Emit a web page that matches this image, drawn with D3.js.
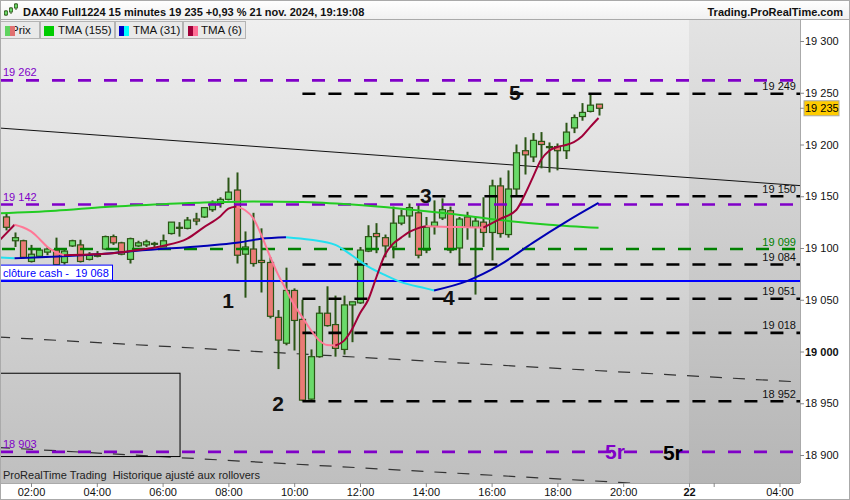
<!DOCTYPE html>
<html><head><meta charset="utf-8">
<script src="https://cdn.jsdelivr.net/npm/d3@7"></script>
<style>
body{margin:0;background:#fff}
svg{display:block;font-family:"Liberation Sans",Arial,sans-serif}
</style>
</head><body><svg id="c" width="850" height="500"></svg>
<script>
// ---------------- DATA ----------------
const times = ["01:15","01:30","01:45","02:00","02:15","02:30","02:45","03:00","03:15","03:30","03:45","04:00",
"04:15","04:30","04:45","05:00","05:15","05:30","05:45","06:00","06:15","06:30","06:45","07:00",
"07:15","07:30","07:45","08:00","08:15","08:30","08:45","09:00","09:15","09:30","09:45","10:00",
"10:15","10:30","10:45","11:00","11:15","11:30","11:45","12:00","12:15","12:30","12:45","13:00",
"13:15","13:30","13:45","14:00","14:15","14:30","14:45","15:00","15:15","15:30","15:45","16:00",
"16:15","16:30","16:45","17:00","17:15","17:30","17:45","18:00","18:15","18:30","18:45","19:00","19:15"];
const open  = [19130,19107,19107,19087,19092,19096,19098,19086,19102,19103,19089,19092,
19099,19111,19105,19089,19102,19103,19104,19101,19114,19120,19119,19128,
19130,19137,19143,19147,19156,19094,19099,19088,19086,19033,19008,19059,
19031,18954,18995,19037,19026,19002,19045,19047,19097,19114,19110,19101,
19124,19131,19134,19098,19121,19129,19136,19100,19130,19120,19125,19115,
19160,19113,19157,19194,19188,19203,19198,19198,19194,19216,19227,19232,19239];
const high  = [19134,19115,19108,19103,19100,19101,19110,19100,19108,19108,19096,19097,
19112,19113,19106,19110,19107,19108,19106,19113,19125,19125,19130,19134,
19139,19146,19149,19168,19173,19116,19134,19119,19091,19040,19081,19061,
19050,19002,19044,19063,19054,19054,19048,19101,19122,19124,19113,19140,
19137,19143,19142,19130,19146,19148,19140,19130,19135,19130,19149,19166,
19168,19175,19200,19207,19211,19212,19202,19201,19221,19229,19240,19248,19239];
const low   = [19117,19101,19090,19086,19091,19093,19083,19084,19101,19086,19088,19091,
19098,19103,19093,19085,19101,19101,19101,19101,19113,19111,19118,19122,
19129,19135,19139,19146,19085,19052,19082,19057,19032,18983,19006,19001,
18952,18952,18994,19024,18995,18997,19009,19046,19096,19095,19091,19090,
19122,19110,19090,19095,19113,19127,19095,19085,19108,19055,19101,19088,
19110,19110,19151,19171,19183,19177,19173,19175,19186,19211,19223,19231,19228];
const close = [19120,19110,19091,19094,19098,19099,19084,19097,19107,19087,19093,19093,
19111,19105,19094,19109,19105,19106,19104.5,19107,19125,19119,19127,19126,
19139,19143,19147,19154,19093,19101,19085,19086,19034,19011,19059,19030,
18953,18995,19037,19025,19003,19045,19048,19098,19111,19111,19102,19124,
19131,19139,19093,19120,19125,19137,19098,19128,19120,19126,19115,19160,
19114,19157,19192,19190,19204,19200,19197,19194,19212,19226,19231,19238,19235];

const tma155T = ["01:00","02:45","04:15","05:45","07:15","08:45","10:15","11:45","13:15","14:45","16:15","17:45","19:15"];
const tma155V = [19133.5,19136,19139.5,19142,19144,19145,19144.5,19142,19138,19133,19127,19122.5,19119.5];

const tma31T = ["01:00","01:30","04:00","05:30","07:15","08:15","09:00","09:45","10:30","11:15","11:45","12:15",
"12:45","13:15","14:00","14:15","15:15","16:15","17:15","18:15","19:15"];
const tma31V = [19091,19090,19094,19098,19102,19105,19109,19110.5,19108,19103,19093,19082,
19074,19067,19061,19059,19068,19083.6,19105,19125,19143.5];

const tma6T = ["01:00","01:30","01:45","02:00","02:15","02:30","02:45","03:00","03:45","04:30","05:15","06:00",
"06:45","07:15","07:45","08:00","08:15","08:30","08:45","09:00","09:15","09:30","09:45","10:00",
"10:15","10:30","10:45","11:00","11:15","11:30","11:45","12:00","12:15","12:30","12:45","13:00",
"13:15","13:30","13:45","14:00","14:30","15:00","15:30","15:45","16:15","16:45","17:00","17:15",
"17:30","17:45","18:00","18:15","18:30","18:45","19:00","19:15"];
const tma6V = [19106,19122.5,19120,19116,19109,19101,19096,19093,19093.7,19095,19098,19102,
19109,19120,19130.5,19138,19140,19136.7,19129,19112.6,19093,19075,19060,19045,
19033,19021,19011,19006.3,19005.8,19010,19021,19037,19050,19072,19093,19104,
19110,19115.5,19119,19121,19120.6,19120.2,19119.8,19119.6,19128,19136.7,19151,19168,
19185,19194,19197.6,19199.5,19202.4,19208,19217,19225.6];

const purpleLevels = [19262,19142,18903];
const purpleLabels = ["19 262","19 142","18 903"];
const greenLevels = [19099];
const greenLabels = ["19 099"];
const blackLevels = [19249,19150,19084,19051,19018,18952];
const blackLabels = ["19 249","19 150","19 084","19 051","19 018","18 952"];
const blackStart = "10:15";
const cashClose = 19068;
const cashLabel = "clôture cash -  19 068";
const lastPrice = 19235;
const lastLabel = "19 235";

// trend lines [hour, price]
const trendSolid = [[1,19216],[25.5,19160]];
const trendDash1 = [[1,19014],[25.5,18970.3]];
const trendDash2 = [[1,18907.3],[25.5,18863.5]];
const boxRect = {h1:0.9, h2:6.53, p1:18979, p2:18898.5};

const waveLabels = ["1","2","3","4","5"];
const waveHours  = [7.99,9.51,14.0,14.7,16.71];
const wavePrices = [19049.8,18950.2,19151.2,19052.6,19250.7];
const rLabels = ["5r","5r"];
const rHours = [19.75,21.51];
const rPrices = [18903.9,18902];
const rColors = ["#8000c8","#000000"];

const yTicks = [19300,19250,19200,19150,19100,19050,19000,18950,18900];
const yTickLabels = ["19 300","19 250","19 200","19 150","19 100","19 050","19 000","18 950","18 900"];
const xTickHours = [2,4,6,8,10,12,14,16,18,20,22,22.75,24.75];
const xTickLabels = ["02:00","04:00","06:00","08:00","10:00","12:00","14:00","16:00","18:00","20:00","22","","04:00"];
const futureStart = 22;

const title = "DAX40 Full1224 15 minutes 19 235 +0,93 % 21 nov. 2024, 19:19:08";
const site = "Trading.ProRealTime.com";
const footer = "ProRealTime Trading  Historique ajusté aux rollovers";
const legendNames = ["Prix","TMA (155)","TMA (31)","TMA (6)"];

// ---------------- DRAW ----------------
const W=850,H=500, PL=0, PR=800, PT=20, PB=483;
const svg = d3.select("#c");
const hr = t => { const [a,b]=t.split(":").map(Number); return a+b/60; };
const x = d3.scaleLinear().domain([2,22]).range([31,689]);
const y = d3.scaleLinear().domain([18900,19300]).range([455,41]);

const defs = svg.append("defs");
const g1 = defs.append("linearGradient").attr("id","bg").attr("x1",0).attr("y1",0).attr("x2",0).attr("y2",1);
g1.append("stop").attr("offset",0).attr("stop-color","#efefef");
g1.append("stop").attr("offset",1).attr("stop-color","#bfbfbf");
const g2 = defs.append("linearGradient").attr("id","bgf").attr("x1",0).attr("y1",0).attr("x2",0).attr("y2",1);
g2.append("stop").attr("offset",0).attr("stop-color","#e3e3e3");
g2.append("stop").attr("offset",1).attr("stop-color","#b5b5b5");
const g3 = defs.append("linearGradient").attr("id","hd").attr("x1",0).attr("y1",0).attr("x2",0).attr("y2",1);
g3.append("stop").attr("offset",0).attr("stop-color","#ffffff");
g3.append("stop").attr("offset",1).attr("stop-color","#f0f0f0");
defs.append("clipPath").attr("id","clip").append("rect").attr("x",PL).attr("y",PT).attr("width",PR-PL).attr("height",PB-PT);

// backgrounds
svg.append("rect").attr("width",W).attr("height",H).attr("fill","#fff");
svg.append("rect").attr("x",0).attr("y",0).attr("width",W).attr("height",PT).attr("fill","url(#hd)");
svg.append("rect").attr("x",PL).attr("y",PT).attr("width",PR-PL).attr("height",PB-PT).attr("fill","url(#bg)");
svg.append("rect").attr("x",x(futureStart)).attr("y",PT).attr("width",PR-x(futureStart)).attr("height",PB-PT).attr("fill","url(#bgf)");

const plot = svg.append("g").attr("clip-path","url(#clip)");

// trend lines
const tl = d3.line().x(d=>x(d[0])).y(d=>y(d[1]));
plot.append("path").attr("d",tl(trendSolid)).attr("stroke","#111").attr("stroke-width",1).attr("fill","none");
[trendDash1,trendDash2].forEach(t=>plot.append("path").attr("d",tl(t)).attr("stroke","#333").attr("stroke-width",1.2)
  .attr("stroke-dasharray","12,11").attr("fill","none"));
plot.append("rect").attr("x",x(boxRect.h1)).attr("y",y(boxRect.p1)).attr("width",x(boxRect.h2)-x(boxRect.h1))
  .attr("height",y(boxRect.p2)-y(boxRect.p1)).attr("fill","none").attr("stroke","#000").attr("stroke-width",1);

// candles
const cw = 6;
const cg = plot.append("g");
times.forEach((t,i)=>{
  const cx = Math.round(x(hr(t)))+0.5;
  const up = close[i]>=open[i];
  cg.append("line").attr("x1",cx).attr("x2",cx).attr("y1",y(high[i])).attr("y2",y(low[i]))
    .attr("stroke","#2b5516").attr("stroke-width",2);
  const top = y(Math.max(open[i],close[i])), bot = y(Math.min(open[i],close[i]));
  cg.append("rect").attr("x",cx-cw/2).attr("y",top).attr("width",cw).attr("height",Math.max(1,bot-top))
    .attr("fill",up?"#6ada6a":"#ea7b76").attr("stroke","#2b5516").attr("stroke-width",1.2);
});

// horizontal levels
purpleLevels.forEach((p,i)=>{
  plot.append("line").attr("x1",PL).attr("x2",796).attr("y1",y(p)).attr("y2",y(p))
    .attr("stroke","#8000c8").attr("stroke-width",2.6).attr("stroke-dasharray","13,13");
  svg.append("text").attr("x",3).attr("y",y(p)-4).attr("font-size",11).attr("fill","#8000c8").text(purpleLabels[i]);
});
greenLevels.forEach((p,i)=>{
  plot.append("line").attr("x1",PL).attr("x2",796).attr("y1",y(p)).attr("y2",y(p))
    .attr("stroke","#008000").attr("stroke-width",2.6).attr("stroke-dasharray","13,13").attr("stroke-dashoffset",-2);
  svg.append("text").attr("x",796).attr("y",y(p)-3.5).attr("font-size",11).attr("text-anchor","end").attr("fill","#008000").text(greenLabels[i]);
});
blackLevels.forEach((p,i)=>{
  plot.append("line").attr("x1",x(hr(blackStart))).attr("x2",PR).attr("y1",y(p)).attr("y2",y(p))
    .attr("stroke","#000").attr("stroke-width",2.6).attr("stroke-dasharray","13,13");
  svg.append("text").attr("x",796).attr("y",y(p)-3.5).attr("font-size",11).attr("text-anchor","end").attr("fill","#111").text(blackLabels[i]);
});
plot.append("line").attr("x1",PL).attr("x2",PR).attr("y1",y(cashClose)).attr("y2",y(cashClose))
  .attr("stroke","#0000ff").attr("stroke-width",2);

// moving averages
const ml = d3.line().x(d=>x(d[0])).y(d=>y(d[1])).curve(d3.curveMonotoneX);
function drawMA(ts,vs,upC,dnC){
  const runs=[]; let cur=null;
  for(let i=0;i<vs.length-1;i++){
    const c = vs[i+1]>=vs[i]?upC:dnC;
    if(!cur||cur.c!==c){cur={c,pts:[[hr(ts[i]),vs[i]]]};runs.push(cur);}
    cur.pts.push([hr(ts[i+1]),vs[i+1]]);
  }
  runs.forEach(r=>plot.append("path").attr("d",ml(r.pts)).attr("stroke",r.c).attr("stroke-width",2)
    .attr("fill","none").attr("stroke-linejoin","round"));
}
drawMA(tma155T,tma155V,"#22cc22","#22cc22");
drawMA(tma31T,tma31V,"#0000b4","#22e0f0");
drawMA(tma6T,tma6V,"#a00038","#ff7896");

// wave labels
waveLabels.forEach((l,i)=>svg.append("text").attr("x",x(waveHours[i])).attr("y",y(wavePrices[i]))
  .attr("dy","0.36em").attr("text-anchor","middle").attr("font-size",21).attr("font-weight","bold").attr("fill","#111").text(l));
rLabels.forEach((l,i)=>svg.append("text").attr("x",x(rHours[i])).attr("y",y(rPrices[i]))
  .attr("dy","0.36em").attr("text-anchor","middle").attr("font-size",21).attr("font-weight","bold").attr("fill",rColors[i]).text(l));

// cash close label
svg.append("rect").attr("x",0.5).attr("y",y(cashClose)-16).attr("width",112).attr("height",15)
  .attr("fill","#fff").attr("stroke","#0000ff").attr("stroke-width",1);
svg.append("text").attr("x",3).attr("y",y(cashClose)-4.5).attr("font-size",11).attr("fill","#0000ff")
  .style("white-space","pre").text(cashLabel);

// footer
svg.append("text").attr("x",3).attr("y",479).attr("font-size",11).attr("fill","#222")
  .style("white-space","pre").text(footer);

// right axis
svg.append("rect").attr("x",PR).attr("y",PT).attr("width",W-PR).attr("height",PB-PT).attr("fill","#fff");
const ay = svg.append("g").attr("transform",`translate(${PR},0)`)
  .call(d3.axisRight(y).tickValues(yTicks).tickSize(4).tickPadding(1).tickFormat((d,i)=>yTickLabels[i]));
ay.select(".domain").attr("stroke","#aaa").attr("d",`M0.5,${PT}V${PB}`);
ay.selectAll(".tick line").attr("stroke","#888");
ay.selectAll(".tick text").attr("font-size",11).attr("font-family","Liberation Sans, Arial, sans-serif").attr("fill","#111")
  .attr("font-weight",d=>d===19000?"bold":"normal");
svg.append("line").attr("x1",PR).attr("x2",PR+4).attr("y1",y(lastPrice)).attr("y2",y(lastPrice)).attr("stroke","#888");
svg.append("rect").attr("x",804).attr("y",y(lastPrice)-7.5).attr("width",35).attr("height",15)
  .attr("fill","#ffcc00").attr("stroke","#aaa");
svg.append("text").attr("x",805).attr("y",y(lastPrice)).attr("dy","0.35em").attr("font-size",11).attr("fill","#000").text(lastLabel);

// bottom axis
svg.append("rect").attr("x",0).attr("y",PB).attr("width",W).attr("height",H-PB).attr("fill","#fff");
const ax = svg.append("g").attr("transform",`translate(0,${PB})`)
  .call(d3.axisBottom(x).tickValues(xTickHours).tickSize(4).tickPadding(1).tickFormat((d,i)=>xTickLabels[i]));
ax.select(".domain").attr("stroke","#aaa").attr("d",`M0,0.5H${PR}`);
ax.selectAll(".tick line").attr("stroke","#888");
ax.selectAll(".tick text").attr("font-size",11).attr("font-family","Liberation Sans, Arial, sans-serif").attr("fill","#111")
  .attr("font-weight",(d,i)=>xTickLabels[i]==="22"?"bold":"normal");

// header
svg.append("line").attr("x1",0).attr("x2",W).attr("y1",PT-0.5).attr("y2",PT-0.5).attr("stroke","#aaa");
svg.append("text").attr("x",23).attr("y",15.5).attr("font-size",11).attr("font-weight","bold").attr("fill","#111").text(title);
svg.append("text").attr("x",843).attr("y",15.5).attr("font-size",11).attr("font-weight","bold").attr("text-anchor","end").attr("fill","#111").text(site);
// header icon candles
[[6,10,16,11,15],[11,7,14,8,12],[16,3,10,4,8]].forEach(c=>{
  svg.append("line").attr("x1",c[0]).attr("x2",c[0]).attr("y1",c[1]).attr("y2",c[2]).attr("stroke","#2b5516").attr("stroke-width",1);
  svg.append("rect").attr("x",c[0]-1.5).attr("y",c[3]).attr("width",3).attr("height",c[4]-c[3]).attr("fill","#6ada6a").attr("stroke","#2b5516").attr("stroke-width",0.8);
});

// legend
const lb = [[0,39],[40,114],[115,182],[183,245]];
const lTextX = [11,58,133,201];
const lIcon = [["#5fd35f","#e07070"],["#00cc00","#00cc00"],["#0000c8","#00ffff"],["#a00038","#ff6f96"]];
const lIconX = [5,44,119,188];
lb.forEach((b,i)=>{
  svg.append("rect").attr("x",b[0]+0.5).attr("y",PT+1.5).attr("width",b[1]-b[0]).attr("height",17)
    .attr("fill","#e9e9e9").attr("stroke","#b4b4b4");
  svg.append("text").attr("x",lTextX[i]).attr("y",34).attr("font-size",11.5).attr("fill","#111").text(legendNames[i]);
  svg.append("rect").attr("x",lIconX[i]).attr("y",26).attr("width",5).attr("height",10).attr("fill",lIcon[i][0]);
  svg.append("rect").attr("x",lIconX[i]+5).attr("y",26).attr("width",5).attr("height",10).attr("fill",lIcon[i][1]);
});

// outer frame
svg.append("rect").attr("x",0.5).attr("y",0.5).attr("width",W-1).attr("height",H-1).attr("fill","none").attr("stroke","#aaa");
</script>
</body></html>
